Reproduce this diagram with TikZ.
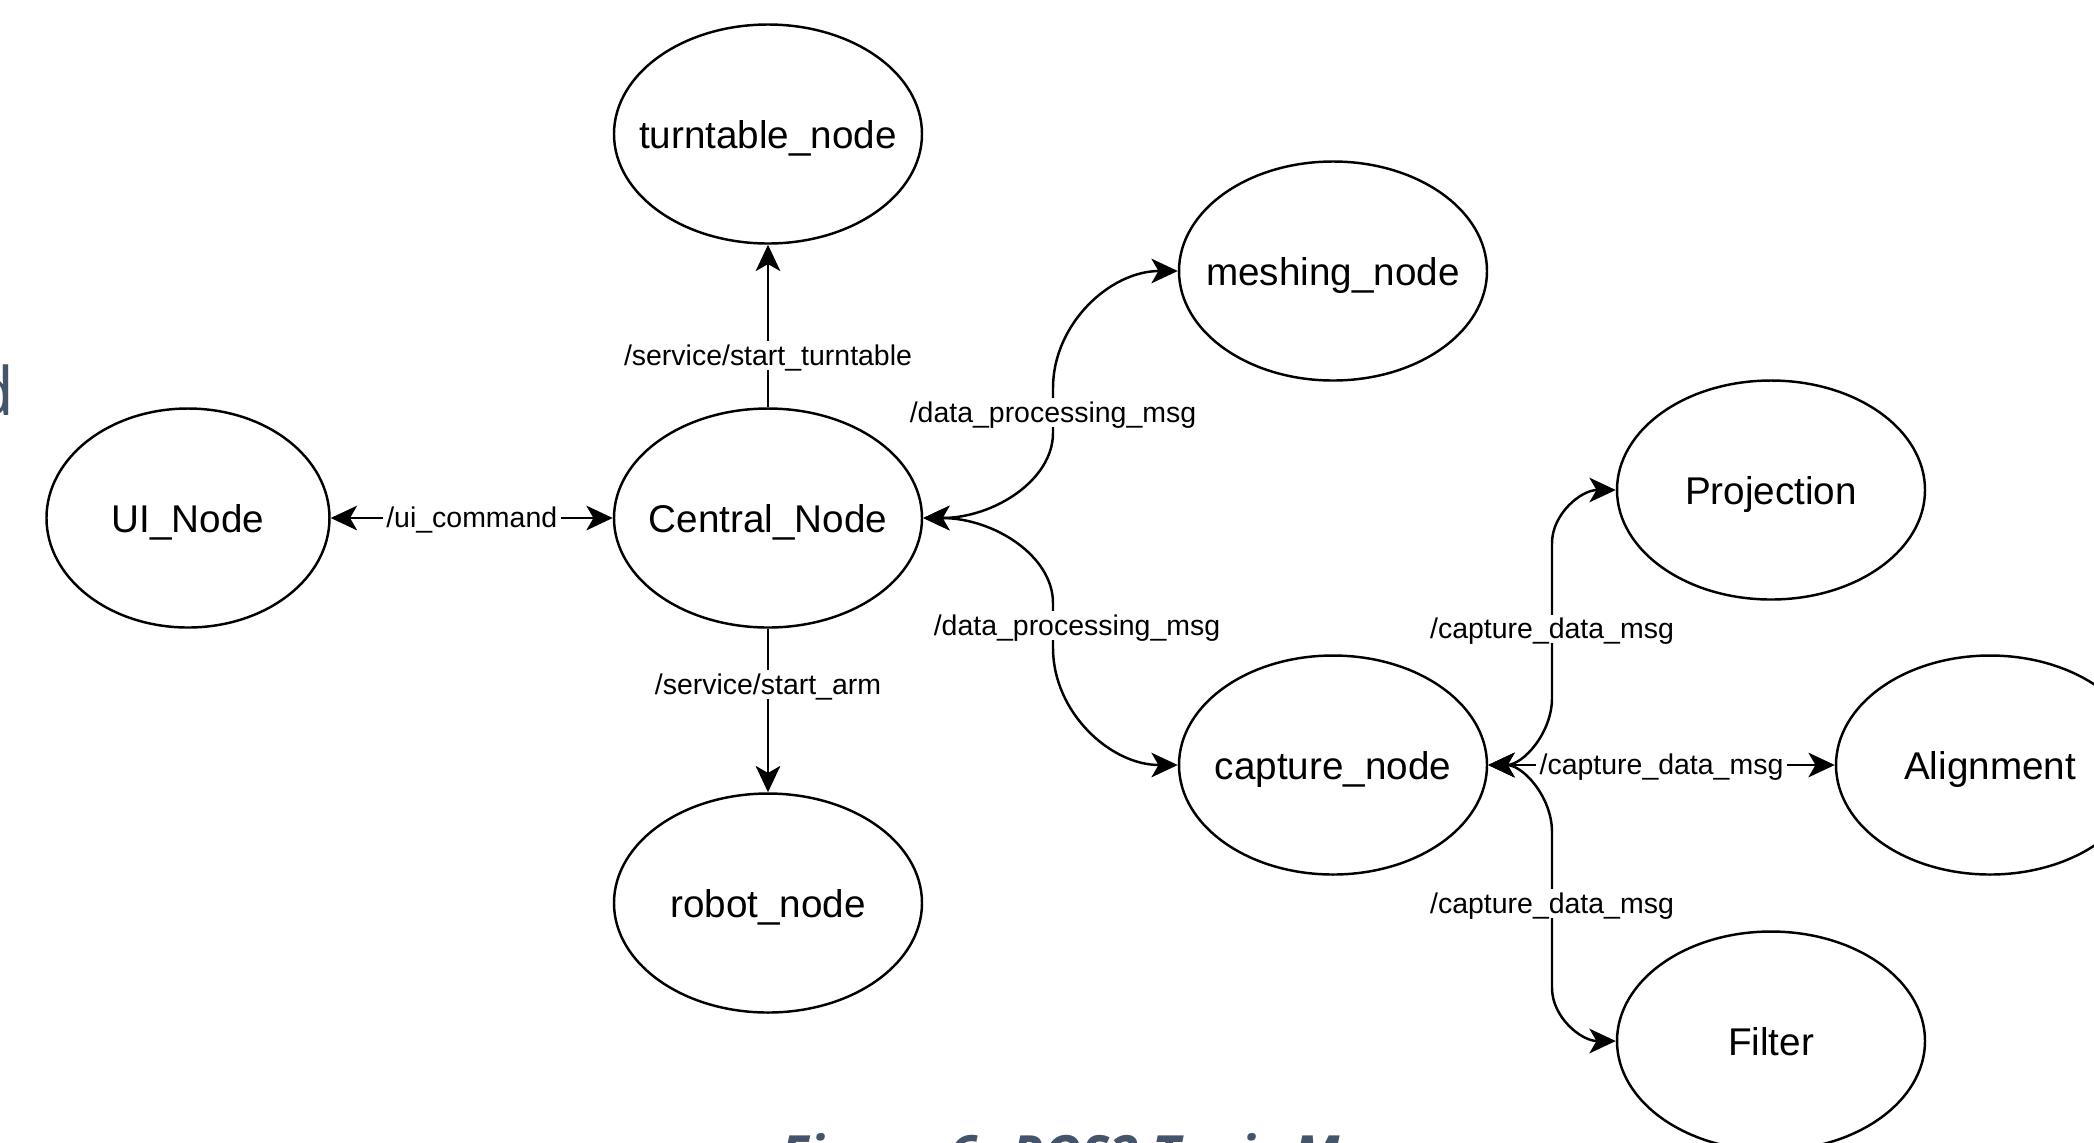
\documentclass[tikz,border=0pt]{standalone}
\usepackage{fontspec}
\setmainfont{Liberation Sans}
\newfontfamily\capfont{Open Sans}
\usetikzlibrary{shapes.geometric, arrows.meta}
\definecolor{capSlate}{RGB}{68,84,106}
\tikzstyle{topic} = [ellipse, draw, line width=0.7pt, minimum width=3.08cm,
minimum height=2.19cm, inner xsep=-4mm, inner ysep=0pt, text depth=0pt,
font=\fontsize{11}{13}\selectfont]
\tikzstyle{lbl}   = [fill=white, inner sep=1pt, text depth=0.3pt, font=\fontsize{8.1}{10}\selectfont]
\tikzstyle{link}  = [<->, >={Stealth[length=7.5pt, width=7pt, inset=2pt]}, line width=0.7pt]
\tikzstyle{pub}   = [->, >={Stealth[length=7.5pt, width=7pt, inset=2pt]}, line width=0.7pt]

\begin{document}
\begin{tikzpicture}[node distance=3.84cm]
      \clip (-7.68,5.18) rectangle (13.26,-6.24);

      \node(central) [topic] {Central\_Node};
      \node(tt)   [topic, above of = central] {turntable\_node};
      \node(rb)   [topic, yshift=-0.01cm, below of = central] {robot\_node};
      \node(ui)   [topic, minimum width=2.83cm, xshift=-1.96cm, left of = central] {UI\_Node};
      \node(mesh) [topic, xshift=1.81cm, yshift=2.47cm,  right of = central] {meshing\_node};
      \node(cap)  [topic, xshift=1.81cm, yshift=-2.47cm, right of = central] {capture\_node};

      \node(proj)  [topic, xshift=0.54cm, yshift=2.75cm,  right of = cap] {Projection};
      \node(align) [topic, xshift=2.73cm, right of = cap] {Alignment};
      \node(filt)  [topic, xshift=0.54cm, yshift=-2.76cm, right of = cap] {Filter};

      % cropped text of the page round the figure
      \node(frag) [anchor=base east, inner sep=0pt, text=capSlate,
        font=\capfont\fontsize{19}{22}\selectfont] at (-7.53,1.03) {d};
      \node(figcap) [anchor=base west, inner sep=0pt, text=capSlate,
        font=\capfont\fontsize{15}{18}\bfseries\itshape] at (0.12,-6.55) {Figure 6: ROS2 Topic Map};

      \draw [pub]  (central) -- node[lbl, pos=0.32] {/service/start\_turntable} (tt);
      \draw [pub]  (central) -- node[lbl, pos=0.34] {/service/start\_arm} (rb);
      \draw [link] (ui)      -- node[lbl] {/ui\_command} (central);
      \draw [link] (cap)     -- node[lbl] {/capture\_data\_msg} (align);

      \draw [link] (central.east) .. controls (2.26,0) and (2.85,0.38) .. (2.85,0.85)
            -- node[lbl, pos=0.45] {/data\_processing\_msg} (2.85,1.3)
            .. controls (2.85,1.94) and (3.42,2.47) .. (mesh.west);
      \draw [link] (central.east) .. controls (2.26,0) and (2.85,-0.38) .. (2.85,-0.85)
            -- node[lbl, xshift=2.4mm] {/data\_processing\_msg} (2.85,-1.3)
            .. controls (2.85,-1.94) and (3.42,-2.47) .. (cap.west);
      \draw [link] (cap.east) .. controls (7.55,-2.47) and (7.84,-2.15) .. (7.84,-1.8)
            -- node[lbl, pos=0.445] {/capture\_data\_msg} (7.84,-0.25)
            .. controls (7.84,0.04) and (8.13,0.28) .. (proj.west);
      \draw [link] (cap.east) .. controls (7.55,-2.47) and (7.84,-2.79) .. (7.84,-3.14)
            -- node[lbl, pos=0.46] {/capture\_data\_msg} (7.84,-4.7)
            .. controls (7.84,-4.99) and (8.13,-5.23) .. (filt.west);
    \end{tikzpicture}
\end{document}
